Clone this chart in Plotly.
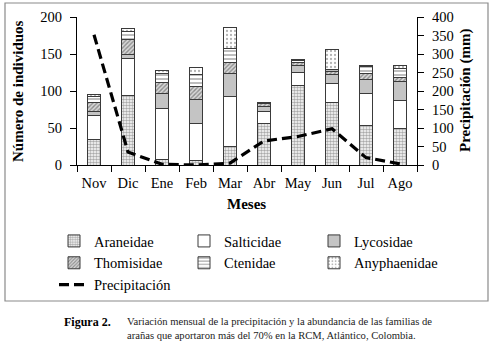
import plotly.graph_objects as go

meses = ["Nov", "Dic", "Ene", "Feb", "Mar", "Abr", "May", "Jun", "Jul", "Ago"]
araneidae = [35, 94, 8, 6, 25, 56, 107, 84, 53, 50]
salticidae = [32, 50, 69, 50, 68, 16, 18, 26, 44, 37]
lycosidae = [5, 6, 20, 33, 30, 7, 10, 12, 18, 26]
thomisidae = [13, 20, 14, 17, 16, 4, 4, 5, 8, 5]
ctenidae = [7, 11, 13, 16, 18, 1, 2, 2, 10, 13]
anyphaenidae = [3, 3, 4, 10, 29, 0, 2, 27, 2, 3]
precipitacion = [352, 35, 2, 0, 5, 65, 77, 98, 20, 3]

W, H = 493, 345
L, R, T, B = 77, 76, 17, 180
PW, PH = W - L - R, H - T - B

def px(x):
    return (x - L) / PW

def py(y):
    return (H - B - y) / PH

FONT = "Times New Roman, Liberation Serif, serif"
EDGE = "#3a3a3a"

series = [
    ("Araneidae", araneidae, dict(shape=".", size=3, solidity=0.55, fgcolor="#555555", bgcolor="white")),
    ("Salticidae", salticidae, dict(shape="", bgcolor="white")),
    ("Lycosidae", lycosidae, dict(shape="", bgcolor="#c4c4c4")),
    ("Thomisidae", thomisidae, dict(shape="/", size=3, solidity=0.45, fgcolor="#444444", bgcolor="#d8d8d8")),
    ("Ctenidae", ctenidae, dict(shape="-", size=4, solidity=0.35, fgcolor="#444444", bgcolor="white")),
    ("Anyphaenidae", anyphaenidae, dict(shape=".", size=4, solidity=0.25, fgcolor="#666666", bgcolor="white")),
]

fig = go.Figure()
for name, vals, pat in series:
    color = pat.get("bgcolor", "white")
    fig.add_trace(go.Bar(
        x=meses, y=vals, name=name,
        marker=dict(color=color, pattern=pat, line=dict(color=EDGE, width=1)),
    ))

fig.add_trace(go.Scatter(
    x=meses, y=precipitacion, name="Precipitación", yaxis="y2",
    mode="lines", line=dict(color="black", width=3.2, dash="10px,5px"),
))

fig.update_layout(
    width=W, height=H,
    margin=dict(l=L, r=R, t=T, b=B, autoexpand=False),
    paper_bgcolor="white", plot_bgcolor="white",
    barmode="stack", bargap=0.59,
    font=dict(family=FONT, size=14, color="black"),
    showlegend=True,
    legend=dict(
        orientation="h", x=px(54), xanchor="left", y=py(225), yanchor="top",
        traceorder="normal", entrywidth=85, entrywidthmode="pixels",
        font=dict(family=FONT, size=14.5, color="black"),
        bgcolor="rgba(0,0,0,0)",
    ),
    xaxis=dict(
        showline=True, linecolor="black", linewidth=1, tickangle=0,
        ticks="outside", tickson="boundaries", ticklen=6, tickcolor="black",
        ticklabelstandoff=5,
        tickfont=dict(size=14.5), showgrid=False,
    ),
    yaxis=dict(
        range=[0, 200], dtick=50, showline=True, linecolor="black", linewidth=1,
        ticks="outside", ticklen=6, tickcolor="black", showgrid=False, zeroline=False,
        ticklabelstandoff=5,
        tickfont=dict(size=14.5),
    ),
    yaxis2=dict(
        range=[0, 400], dtick=50, overlaying="y", side="right",
        showline=True, linecolor="black", linewidth=1,
        ticks="outside", ticklen=6, tickcolor="black", showgrid=False, zeroline=False,
        ticklabelstandoff=5,
        tickfont=dict(size=14.5),
    ),
    shapes=[dict(
        type="rect", xref="paper", yref="paper",
        x0=px(5), x1=px(488), y0=py(301), y1=py(3),
        line=dict(color="#8a8a8a", width=1.2), fillcolor="rgba(0,0,0,0)", layer="below",
    )],
    annotations=[
        dict(text="<b>Número de individuos</b>", xref="paper", yref="paper",
             x=px(18), y=py(91), xanchor="center", yanchor="middle",
             textangle=-90, showarrow=False, font=dict(size=15)),
        dict(text="<b>Precipitación (mm)</b>", xref="paper", yref="paper",
             x=px(465), y=py(91), xanchor="center", yanchor="middle",
             textangle=-90, showarrow=False, font=dict(size=15)),
        dict(text="<b>Meses</b>", xref="paper", yref="paper",
             x=px(246), y=py(204), xanchor="center", yanchor="middle",
             showarrow=False, font=dict(size=15)),
        dict(text="<b>Figura 2.</b>", xref="paper", yref="paper",
             x=px(62), y=py(321.5), xanchor="left", yanchor="middle", showarrow=False,
             font=dict(size=12)),
        dict(text="Variación mensual de la precipitación y la abundancia de las familias de",
             xref="paper", yref="paper", x=px(125), y=py(321), xanchor="left",
             yanchor="middle", showarrow=False, font=dict(size=10.6, color="#222222")),
        dict(text="arañas que aportaron más del 70% en la RCM, Atlántico, Colombia.",
             xref="paper", yref="paper", x=px(125), y=py(335.5), xanchor="left",
             yanchor="middle", showarrow=False, font=dict(size=10.6, color="#222222")),
    ],
)

fig.write_html("out.html", config={"displayModeBar": False},
               post_script="document.body.style.margin='0';")
